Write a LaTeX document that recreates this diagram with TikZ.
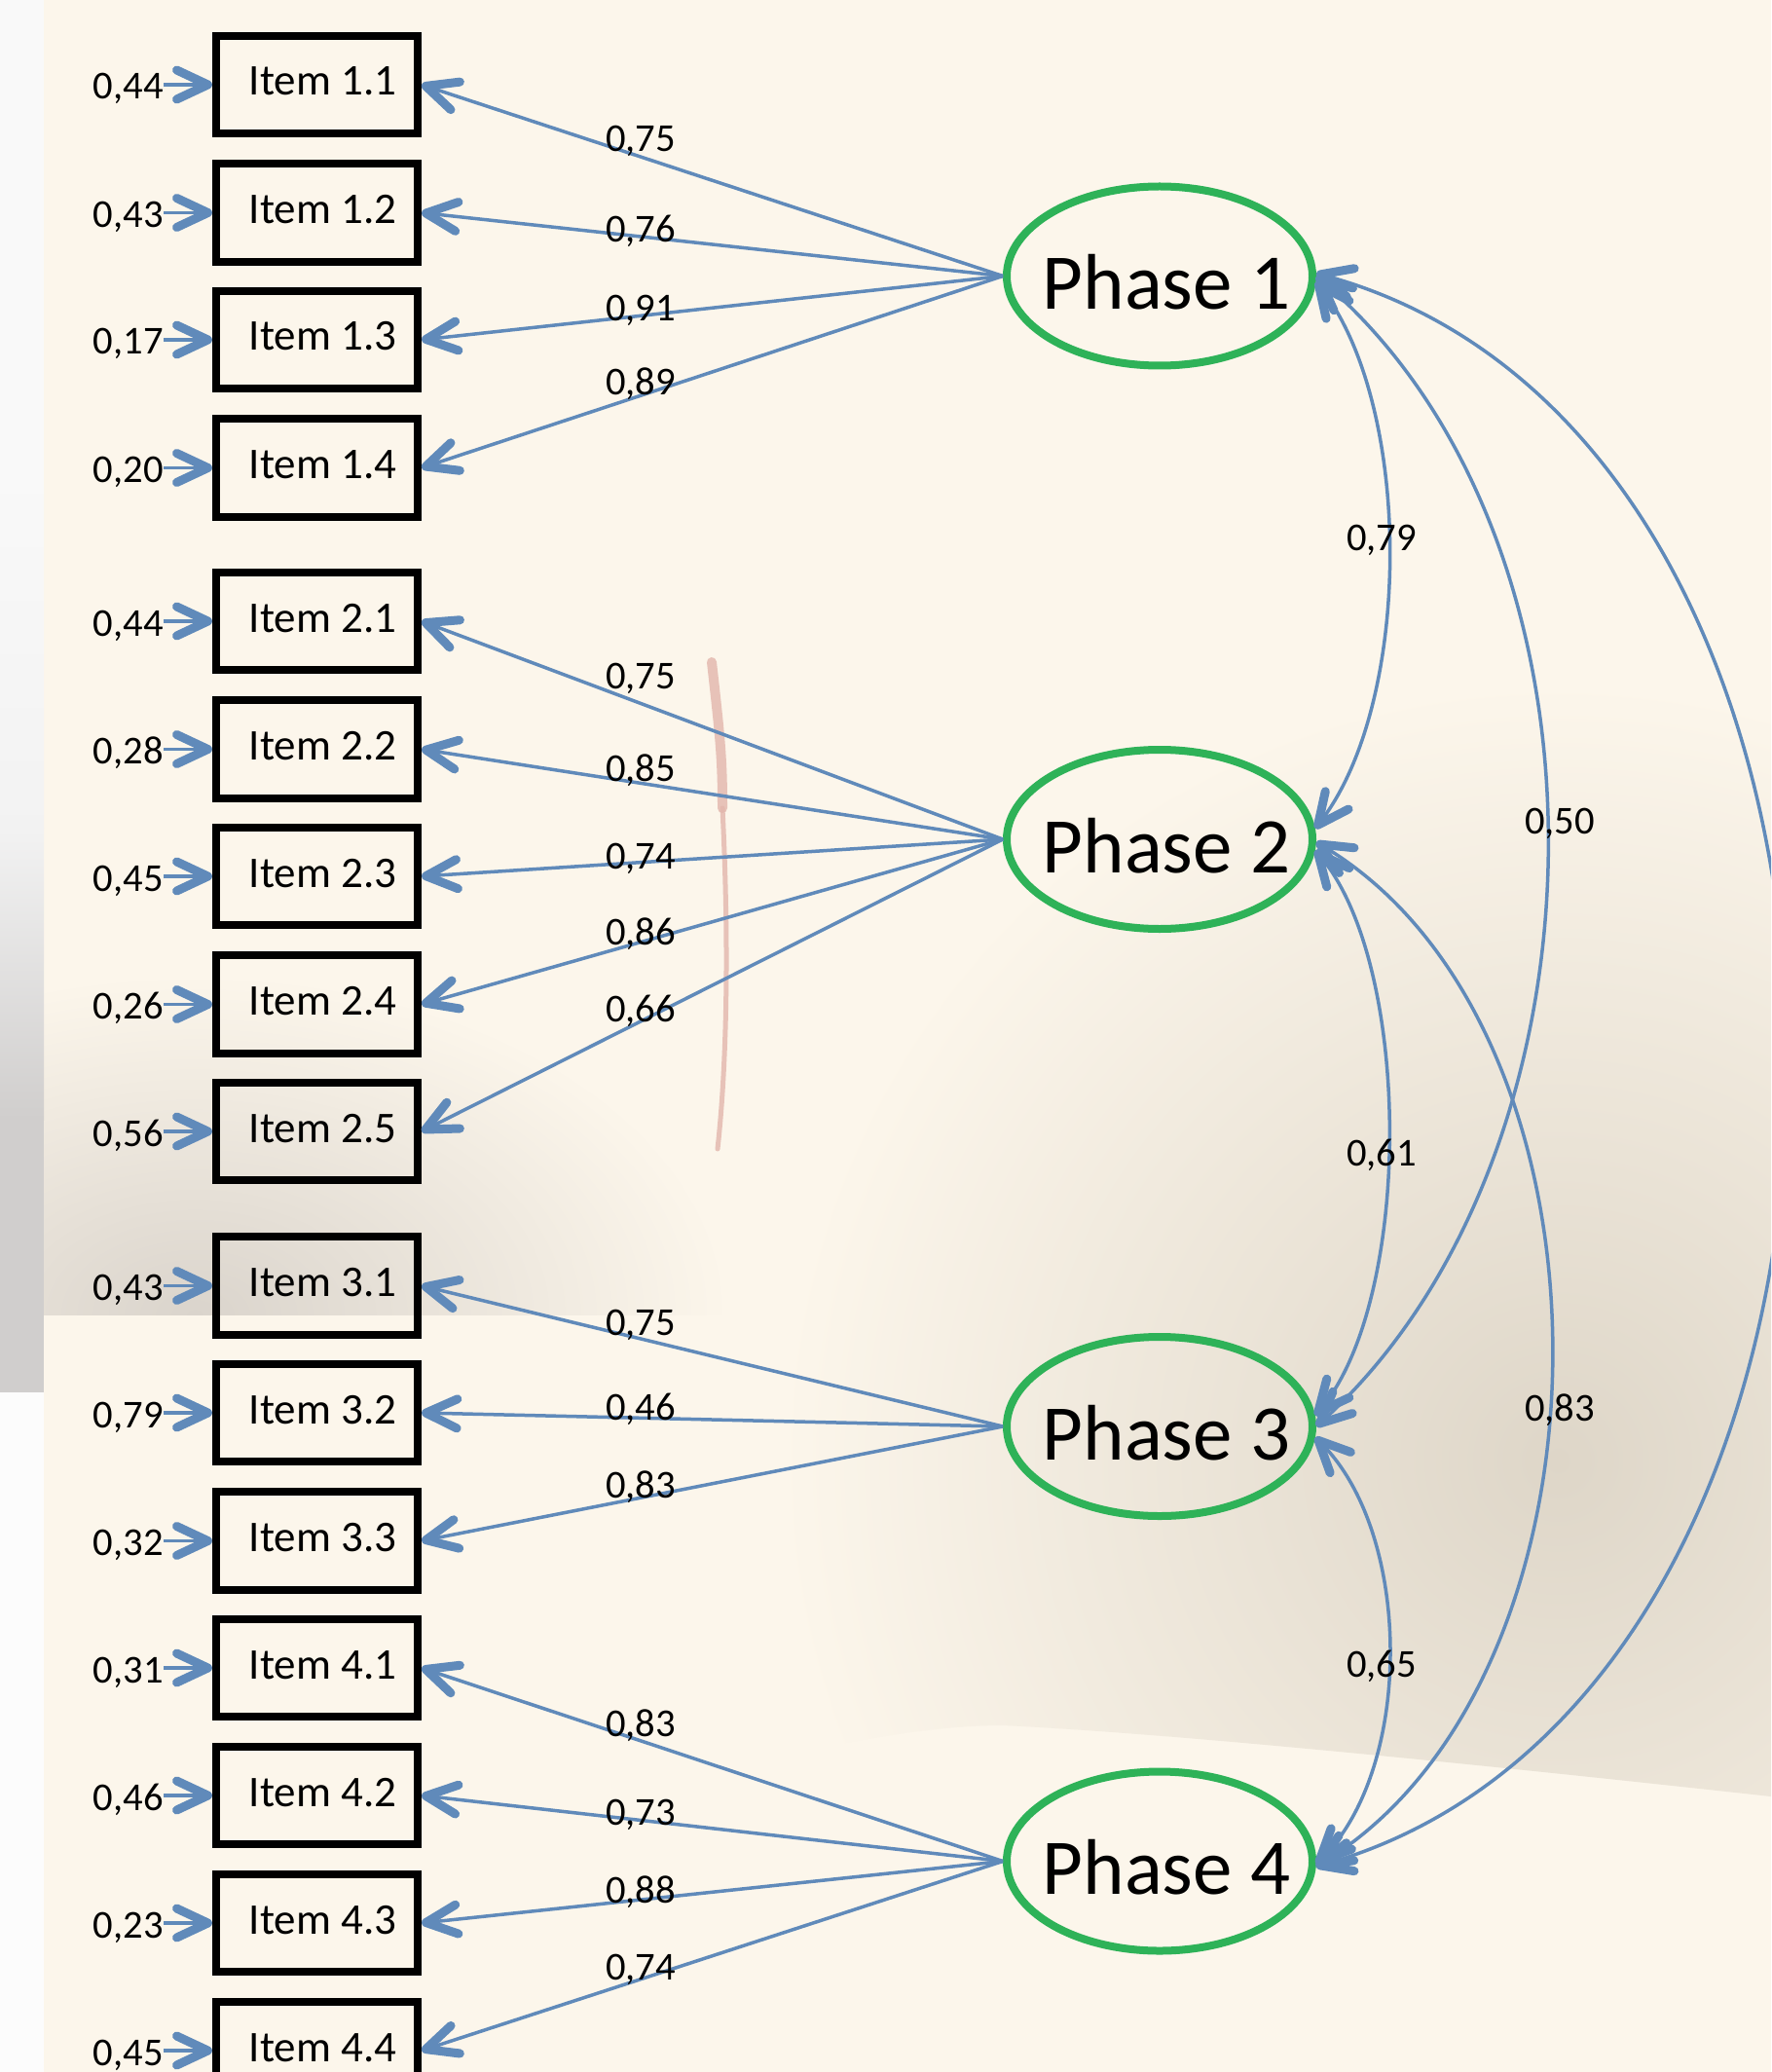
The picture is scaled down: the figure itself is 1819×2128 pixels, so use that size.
\documentclass[tikz,border=0pt]{standalone}
\usepackage{fontspec}
\setmainfont{Carlito}
\usetikzlibrary{arrows.meta,shapes.geometric}

\definecolor{cream}{RGB}{252,246,235}
\definecolor{beigeD}{RGB}{222,214,200}
\definecolor{photogrey}{RGB}{218,212,204}
\definecolor{stripgrey}{RGB}{208,206,205}
\definecolor{streakpink}{RGB}{226,182,172}
\definecolor{arrowblue}{RGB}{96,138,186}
\definecolor{phasegreen}{RGB}{46,178,88}

\tikzset{
  barb/.tip={Straight Barb[length=16pt,width=15pt,line width=4.5pt,round]},
  item/.style={draw=black, line width=4pt, rectangle, minimum width=103.5pt,
    minimum height=50.25pt, inner sep=0pt, font=\fontsize{22.5}{27}\selectfont,
    text height=11pt, text depth=0pt},
  phase/.style={draw=phasegreen, line width=4pt, ellipse, minimum width=157pt,
    minimum height=92pt, inner sep=0pt, font=\fontsize{40.5}{48}\selectfont,
    text height=34pt, text depth=0pt},
  num/.style={inner sep=0pt, font=\fontsize{20.3}{24}\selectfont,
    text height=15pt, text depth=0pt},
  link/.style={draw=arrowblue, line width=1.75pt},
  load/.style={link, -barb},
  cov/.style={link, barb-barb},
}

\begin{document}
\begin{tikzpicture}[x=0.5pt, y=-0.5pt]
\useasboundingbox (0,0) rectangle (1819,2128);
\clip (0,0) rectangle (1819,2128);

% ---------- background ----------
\fill[cream] (0,0) rectangle (1819,2128);
% faded photo: dark table area, lower right
\begin{scope}
  \clip (650,650) -- (1819,650) -- (1819,1845)
        .. controls (1500,1810) and (1200,1780) .. (1030,1772)
        .. controls (930,1772) and (830,1800) .. (650,1830) -- cycle;
  \shade[inner color=beigeD, outer color=cream] (800,700) rectangle (2400,2300);
\end{scope}
% faded photo: grey area left of the middle
\begin{scope}
  \clip (45,900) rectangle (900,1350);
  \shade[inner color=photogrey, outer color=cream] (-350,1000) rectangle (750,1700);
\end{scope}
% faint red streak in the photo
\draw[streakpink, line width=5pt, line cap=round, opacity=0.8]
  (731,680) .. controls (740,760) and (742,780) .. (742,830);
\draw[streakpink, line width=2.5pt, line cap=round, opacity=0.8]
  (742,830) .. controls (748,950) and (748,1080) .. (737,1180);
% light strip along the left edge
\fill[white!95!gray] (0,0) rectangle (45,500);
\shade[top color=white!95!gray, bottom color=white!90!gray] (0,500) rectangle (45,850);
\shade[top color=white!90!gray, bottom color=stripgrey] (0,850) rectangle (45,1150);
\fill[stripgrey] (0,1150) rectangle (45,1430);
\fill[white!98!gray] (0,1430) rectangle (45,2128);

% ---------- latent factors ----------
\node[phase] (p1) at (1191,283.5) {\makebox[0pt]{\hspace*{7pt}Phase 1}};
\node[phase] (p2) at (1191,862)   {\makebox[0pt]{\hspace*{7pt}Phase 2}};
\node[phase] (p3) at (1191,1465)  {\makebox[0pt]{\hspace*{7pt}Phase 3}};
\node[phase] (p4) at (1191,1911.5){\makebox[0pt]{\hspace*{7pt}Phase 4}};

% ---------- items ----------
\node[item] (b11) at (325.5,87)    {\hspace*{6pt}Item 1.1};
\node[item] (b12) at (325.5,218.5) {\hspace*{6pt}Item 1.2};
\node[item] (b13) at (325.5,349)   {\hspace*{6pt}Item 1.3};
\node[item] (b14) at (325.5,480.5) {\hspace*{6pt}Item 1.4};
\node[item] (b21) at (325.5,638)   {\hspace*{6pt}Item 2.1};
\node[item] (b22) at (325.5,769.5) {\hspace*{6pt}Item 2.2};
\node[item] (b23) at (325.5,900)   {\hspace*{6pt}Item 2.3};
\node[item] (b24) at (325.5,1031.5){\hspace*{6pt}Item 2.4};
\node[item] (b25) at (325.5,1162)  {\hspace*{6pt}Item 2.5};
\node[item] (b31) at (325.5,1320.5){\hspace*{6pt}Item 3.1};
\node[item] (b32) at (325.5,1451)  {\hspace*{6pt}Item 3.2};
\node[item] (b33) at (325.5,1582.5){\hspace*{6pt}Item 3.3};
\node[item] (b41) at (325.5,1713)  {\hspace*{6pt}Item 4.1};
\node[item] (b42) at (325.5,1844)  {\hspace*{6pt}Item 4.2};
\node[item] (b43) at (325.5,1975)  {\hspace*{6pt}Item 4.3};
\node[item] (b44) at (325.5,2106)  {\hspace*{6pt}Item 4.4};

% ---------- error variances ----------
\node[num, anchor=east] (e11) at ([xshift=-25pt]b11.west) {0,44};
\node[num, anchor=east] (e12) at ([xshift=-25pt]b12.west) {0,43};
\node[num, anchor=east] (e13) at ([xshift=-25pt]b13.west) {0,17};
\node[num, anchor=east] (e14) at ([xshift=-25pt]b14.west) {0,20};
\node[num, anchor=east] (e21) at ([xshift=-25pt]b21.west) {0,44};
\node[num, anchor=east] (e22) at ([xshift=-25pt]b22.west) {0,28};
\node[num, anchor=east] (e23) at ([xshift=-25pt]b23.west) {0,45};
\node[num, anchor=east] (e24) at ([xshift=-25pt]b24.west) {0,26};
\node[num, anchor=east] (e25) at ([xshift=-25pt]b25.west) {0,56};
\node[num, anchor=east] (e31) at ([xshift=-25pt]b31.west) {0,43};
\node[num, anchor=east] (e32) at ([xshift=-25pt]b32.west) {0,79};
\node[num, anchor=east] (e33) at ([xshift=-25pt]b33.west) {0,32};
\node[num, anchor=east] (e41) at ([xshift=-25pt]b41.west) {0,31};
\node[num, anchor=east] (e42) at ([xshift=-25pt]b42.west) {0,46};
\node[num, anchor=east] (e43) at ([xshift=-25pt]b43.west) {0,23};
\node[num, anchor=east] (e44) at ([xshift=-25pt]b44.west) {0,45};
\foreach \i in {11,12,13,14,21,22,23,24,25,31,32,33,41,42,43,44}
  \draw[load] (e\i.east) -- (b\i.west);

% ---------- factor loadings ----------
\foreach \f/\i in {1/11,1/12,1/13,1/14,2/21,2/22,2/23,2/24,2/25,3/31,3/32,3/33,4/41,4/42,4/43,4/44}
  \draw[load] (p\f.west) -- (b\i.east);

\node[num] (l11) at (658,141)    {0,75};
\node[num] (l12) at (658,233.5)  {0,76};
\node[num] (l13) at (658,315)    {0,91};
\node[num] (l14) at (658,391)    {0,89};
\node[num] (l21) at (658,692)    {0,75};
\node[num] (l22) at (658,787)    {0,85};
\node[num] (l23) at (658,877)    {0,74};
\node[num] (l24) at (658,955.5)  {0,86};
\node[num] (l25) at (658,1034)   {0,66};
\node[num] (l31) at (658,1356)   {0,75};
\node[num] (l32) at (658,1443)   {0,46};
\node[num] (l33) at (658,1523)   {0,83};
\node[num] (l41) at (658,1768)   {0,83};
\node[num] (l42) at (658,1859)   {0,73};
\node[num] (l43) at (658,1939)   {0,88};
\node[num] (l44) at (658,2018)   {0,74};

% ---------- factor correlations ----------
\draw[cov] (p1.-2) .. controls +(100,130) and +(100,-130) .. (p2.4);
\draw[cov] (p2.-4) .. controls +(100,120) and +(100,-120) .. (p3.4);
\draw[cov] (p3.-4) .. controls +(100,100) and +(100,-100) .. (p4.-1);
\draw[cov] (p1.0)  .. controls +(323,277) and +(308,-280) .. (p3.0);
\draw[cov] (p2.-1) .. controls +(323,194) and +(320,-196) .. (p4.-2);
\draw[cov] (p1.1)  .. controls +(644,174) and +(641,-181) .. (p4.-2);

\node[num] (c12) at (1419,551)  {0,79};
\node[num] (c23) at (1419,1182) {0,61};
\node[num] (c34) at (1419,1707) {0,65};
\node[num] (c13) at (1602,841)  {0,50};
\node[num] (c24) at (1602,1444) {0,83};
\end{tikzpicture}
\end{document}
